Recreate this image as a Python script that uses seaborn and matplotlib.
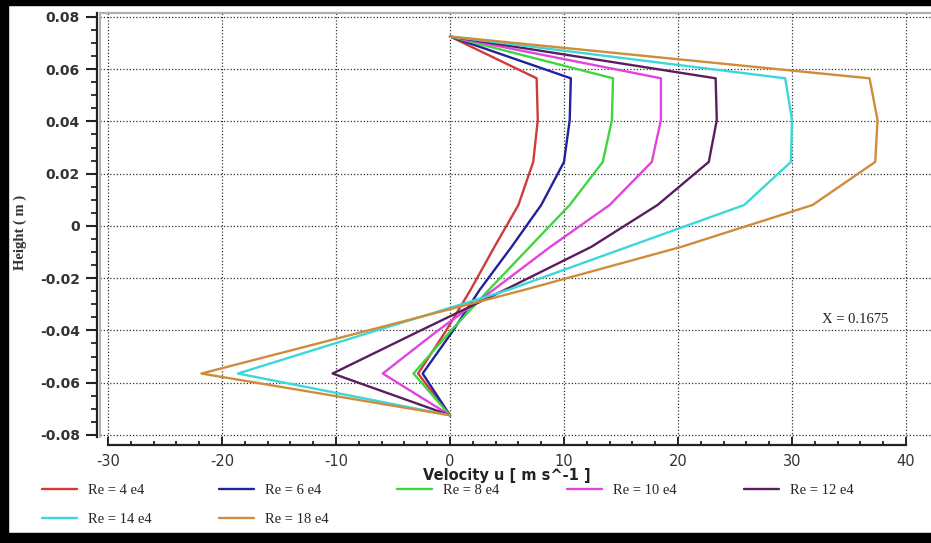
import matplotlib
matplotlib.use("Agg")
import matplotlib.pyplot as plt
import numpy as np
import pandas as pd
import seaborn as sns
from matplotlib.patches import Rectangle
from matplotlib.lines import Line2D
from matplotlib.ticker import MultipleLocator, FixedLocator, FuncFormatter

# ---- data ----
heights = [0.0725, 0.0565, 0.0405, 0.0245, 0.008, -0.008, -0.0245, -0.0405, -0.0565, -0.0725]
u_re4 = [0, 7.6, 7.7, 7.3, 6.0, 3.9, 1.8, -0.4, -2.8, 0]
u_re6 = [0, 10.6, 10.5, 10.0, 8.0, 5.4, 2.6, 0.2, -2.4, 0]
u_re8 = [0, 14.3, 14.2, 13.4, 10.5, 7.0, 3.4, 0.0, -3.2, 0]
u_re10 = [0, 18.5, 18.5, 17.7, 14.0, 8.8, 3.8, -1.2, -5.9, 0]
u_re12 = [0, 23.3, 23.4, 22.7, 18.2, 12.4, 4.8, -2.8, -10.3, 0]
u_re14 = [0, 29.4, 30.0, 29.9, 25.8, 15.6, 5.1, -6.8, -18.6, 0]
u_re18 = [0, 36.8, 37.5, 37.3, 31.8, 20.3, 6.5, -7.6, -21.8, 0]
series = [u_re4, u_re6, u_re8, u_re10, u_re12, u_re14, u_re18]
labels = ["Re = 4 e4", "Re = 6 e4", "Re = 8 e4", "Re = 10 e4",
          "Re = 12 e4", "Re = 14 e4", "Re = 18 e4"]
colors = ["#d03a3a", "#22229a", "#3ed63e", "#e044e0", "#5a1e5e", "#3ad8d8", "#d08c3a"]
x_ticks = [-30, -20, -10, 0, 10, 20, 30, 40]
y_ticks = [-0.08, -0.06, -0.04, -0.02, 0, 0.02, 0.04, 0.06, 0.08]

sns.set_theme(style="white")
plt.rcParams["font.family"] = ["DejaVu Sans"]

W, H = 931, 543
fig = plt.figure(figsize=(W / 100, H / 100), dpi=100)
fig.patch.set_facecolor("white")

ax_l, ax_r, ax_t, ax_b = 100, 931, 13, 437
ax = fig.add_axes([ax_l / W, (H - ax_b) / H, (ax_r - ax_l) / W, (ax_b - ax_t) / H])

for u, lab, col in zip(series, labels, colors):
    sns.lineplot(x=u, y=heights, sort=False, orient="y", estimator=None,
                 color=col, lw=1.7, label=lab, ax=ax)
if ax.get_legend() is not None:
    ax.get_legend().remove()

ax.set_xlim(-30.70, 42.19)
ax.set_ylim(-0.0808, 0.0815)

ax.set_xticks(x_ticks)
ax.set_yticks(y_ticks)
ax.xaxis.set_minor_locator(FixedLocator(list(range(-30, 41, 2))))
ax.yaxis.set_minor_locator(MultipleLocator(0.005))
ax.yaxis.set_major_formatter(FuncFormatter(lambda v, p: "0" if abs(v) < 1e-9 else f"{v:.2f}"))
ax.xaxis.set_major_formatter(FuncFormatter(lambda v, p: f"{v:.0f}"))

ax.grid(True, which="major", linestyle=(0, (1, 1.6)), color="#333333", lw=0.9)

ax.spines["right"].set_visible(False)
ax.spines["top"].set_color("#b0b0b0")
ax.spines["top"].set_linewidth(1.6)
ax.spines["left"].set_color("#222222")
ax.spines["left"].set_linewidth(1.6)
ax.spines["left"].set_position(("outward", 2.5))
ax.spines["bottom"].set_color("#222222")
ax.spines["bottom"].set_linewidth(1.6)
ax.spines["bottom"].set_position(("outward", 6))
ax.spines["bottom"].set_bounds(-30, 40)
ax.add_line(Line2D([0, 0], [0, 1], transform=ax.transAxes, color="#b0b0b0", lw=1.4, clip_on=False))

ax.tick_params(axis="y", which="major", direction="out", length=8, width=1.5, color="#222222",
               labelsize=10, labelcolor="#333333", pad=4, left=True)
ax.tick_params(axis="y", which="minor", direction="out", length=4, width=1.3, color="#222222", left=True)
ax.tick_params(axis="x", which="major", direction="in", length=6, width=1.4, color="#222222",
               labelsize=10.5, labelcolor="#333333", pad=6, bottom=True)
ax.tick_params(axis="x", which="minor", direction="in", length=3, width=1.3, color="#222222", bottom=True)
for t in ax.get_yticklabels():
    t.set_fontweight("bold")

ax.set_xlabel("Velocity u [ m s^-1 ]", fontsize=10.5, fontweight="bold", color="#222222")
ax.xaxis.set_label_coords((507 - ax_l) / (ax_r - ax_l), -(468 - ax_b) / (ax_b - ax_t))
ax.set_ylabel("Height ( m )", fontsize=10.5, fontweight="bold", family=["Liberation Serif"],
              color="#333333")
ax.yaxis.set_label_coords(-(ax_l - 27) / (ax_r - ax_l), (ax_b - 232) / (ax_b - ax_t))

ax.text(32.6, -0.036, "X = 0.1675", family=["Liberation Serif"], fontsize=10.5,
        color="#222222", ha="left", va="center")

handles, labs = ax.get_legend_handles_labels()
order = [0, 5, 1, 6, 2, 3, 4]   # so that the legend fills row by row
fig.legend([handles[i] for i in order], [labs[i] for i in order],
           loc="upper left", bbox_to_anchor=(42 / W, 1 - 484 / H),
           ncol=5, frameon=False, prop={"family": "Liberation Serif", "size": 10.5},
           handlelength=2.4, handletextpad=0.75, columnspacing=4.65, labelspacing=1.05,
           borderaxespad=0, borderpad=0)

# black frame bands of the screenshot
fig.patches.append(Rectangle((0, 0), 8 / W, 1, transform=fig.transFigure, color="black", zorder=10))
fig.patches.append(Rectangle((0, 1 - 5 / H), 1, 5 / H, transform=fig.transFigure, color="black", zorder=10))
fig.patches.append(Rectangle((0, 0), 1, 10 / H, transform=fig.transFigure, color="black", zorder=10))

fig.savefig("out.png", dpi=100)
